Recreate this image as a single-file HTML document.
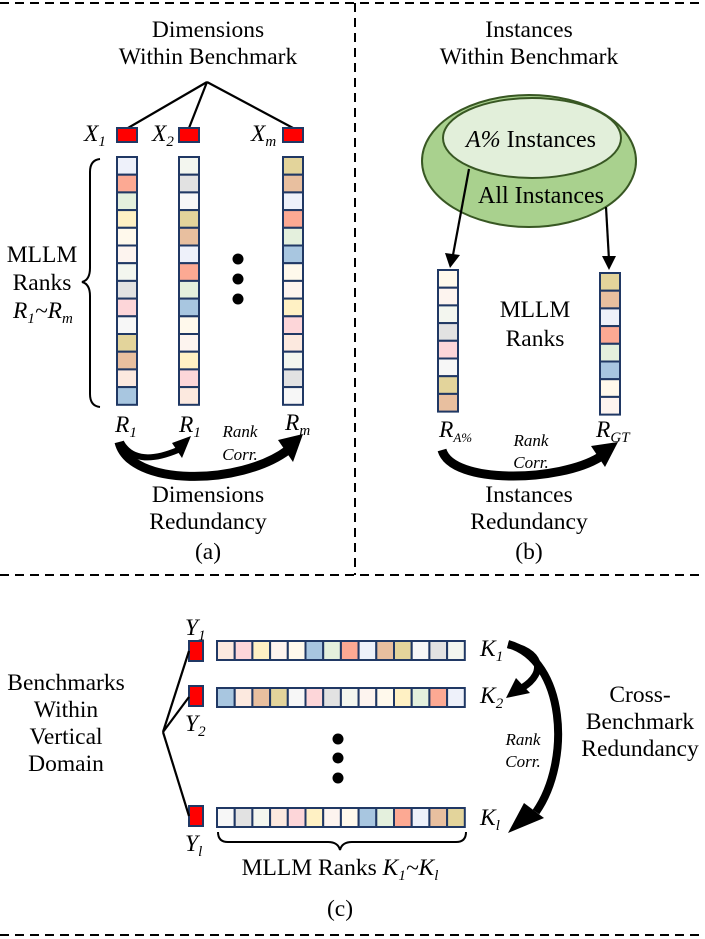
<!DOCTYPE html>
<html><head><meta charset="utf-8"><style>
html,body{margin:0;padding:0;background:#fff;}
svg{display:block;}
text{font-family:"Liberation Serif",serif;fill:#000;}
.c rect{stroke:#203864;stroke-width:2;}
</style></head><body>
<svg width="705" height="939" viewBox="0 0 705 939" xmlns="http://www.w3.org/2000/svg">
<g stroke="#000" stroke-width="2" stroke-dasharray="9,6" fill="none">
<line x1="0" y1="3" x2="705" y2="3"/>
<line x1="355" y1="3" x2="355" y2="575"/>
<line x1="0" y1="575" x2="705" y2="575"/>
<line x1="0" y1="935" x2="705" y2="935"/>
</g>

<!-- Panel a -->
<text x="208" y="37" font-size="23.5" text-anchor="middle">Dimensions</text>
<text x="208" y="64" font-size="23.5" text-anchor="middle">Within Benchmark</text>
<g stroke="#000" stroke-width="2.2"><line x1="207" y1="82" x2="128" y2="128"/><line x1="207" y1="82" x2="189" y2="128"/><line x1="207" y1="82" x2="293" y2="128"/></g>
<g fill="#f00" stroke="#203864" stroke-width="2"><rect x="117" y="128" width="20" height="14"/><rect x="179" y="128" width="20" height="14"/><rect x="283" y="128" width="20" height="14"/></g>
<text x="84" y="141" font-size="23.5" font-style="italic">X<tspan font-size="15" dy="5">1</tspan></text>
<text x="152" y="141" font-size="23.5" font-style="italic">X<tspan font-size="15" dy="5">2</tspan></text>
<text x="251" y="141" font-size="23.5" font-style="italic">X<tspan font-size="15" dy="5">m</tspan></text>

<g class="c">
<rect x="117" y="157" width="20" height="17.7" fill="#EEF1FA"/><rect x="117" y="174.7" width="20" height="17.7" fill="#FCA993"/><rect x="117" y="192.4" width="20" height="17.7" fill="#E4F0DD"/><rect x="117" y="210.1" width="20" height="17.7" fill="#FFF1C4"/><rect x="117" y="227.8" width="20" height="17.7" fill="#FFF9EC"/><rect x="117" y="245.5" width="20" height="17.7" fill="#FDF4EF"/><rect x="117" y="263.2" width="20" height="17.7" fill="#F3F6EF"/><rect x="117" y="280.9" width="20" height="17.7" fill="#E2E2E2"/><rect x="117" y="298.6" width="20" height="17.7" fill="#FDD6D9"/><rect x="117" y="316.3" width="20" height="17.7" fill="#F7F7F7"/><rect x="117" y="334" width="20" height="17.7" fill="#E3D49B"/><rect x="117" y="351.7" width="20" height="17.7" fill="#E8BF9F"/><rect x="117" y="369.4" width="20" height="17.7" fill="#FCE9DF"/><rect x="117" y="387.1" width="20" height="17.7" fill="#A8C6E0"/>
<rect x="179" y="157" width="20" height="17.7" fill="#F3F6EF"/><rect x="179" y="174.7" width="20" height="17.7" fill="#E2E2E2"/><rect x="179" y="192.4" width="20" height="17.7" fill="#F7F7F7"/><rect x="179" y="210.1" width="20" height="17.7" fill="#E3D49B"/><rect x="179" y="227.8" width="20" height="17.7" fill="#E8BF9F"/><rect x="179" y="245.5" width="20" height="17.7" fill="#EEF1FA"/><rect x="179" y="263.2" width="20" height="17.7" fill="#FCA993"/><rect x="179" y="280.9" width="20" height="17.7" fill="#E4F0DD"/><rect x="179" y="298.6" width="20" height="17.7" fill="#A8C6E0"/><rect x="179" y="316.3" width="20" height="17.7" fill="#FFF9EC"/><rect x="179" y="334" width="20" height="17.7" fill="#FDF4EF"/><rect x="179" y="351.7" width="20" height="17.7" fill="#FFF1C4"/><rect x="179" y="369.4" width="20" height="17.7" fill="#FDD6D9"/><rect x="179" y="387.1" width="20" height="17.7" fill="#FCE9DF"/>
<rect x="283" y="157" width="20" height="17.7" fill="#E3D49B"/><rect x="283" y="174.7" width="20" height="17.7" fill="#E8BF9F"/><rect x="283" y="192.4" width="20" height="17.7" fill="#EEF1FA"/><rect x="283" y="210.1" width="20" height="17.7" fill="#FCA993"/><rect x="283" y="227.8" width="20" height="17.7" fill="#E4F0DD"/><rect x="283" y="245.5" width="20" height="17.7" fill="#A8C6E0"/><rect x="283" y="263.2" width="20" height="17.7" fill="#FFF9EC"/><rect x="283" y="280.9" width="20" height="17.7" fill="#FDF4EF"/><rect x="283" y="298.6" width="20" height="17.7" fill="#FFF1C4"/><rect x="283" y="316.3" width="20" height="17.7" fill="#FDD6D9"/><rect x="283" y="334" width="20" height="17.7" fill="#FCE9DF"/><rect x="283" y="351.7" width="20" height="17.7" fill="#F3F6EF"/><rect x="283" y="369.4" width="20" height="17.7" fill="#E2E2E2"/><rect x="283" y="387.1" width="20" height="17.7" fill="#F7F7F7"/>
</g>
<g fill="#000"><circle cx="238" cy="259" r="5.5"/><circle cx="238" cy="279" r="5.5"/><circle cx="238" cy="299" r="5.5"/></g>
<path d="M100,159 Q90,160 90,172 L90,268 Q90,280 82,282 Q90,284 90,296 L90,394 Q90,406 100,407" fill="none" stroke="#000" stroke-width="2"/>
<text x="42" y="262" font-size="23.5" text-anchor="middle">MLLM</text>
<text x="42" y="290" font-size="23.5" text-anchor="middle">Ranks</text>
<text x="13" y="318" font-size="23.5" font-style="italic">R<tspan font-size="15" dy="5">1</tspan><tspan dy="-5">~R</tspan><tspan font-size="15" dy="5">m</tspan></text>

<text x="115" y="432" font-size="23.5" font-style="italic">R<tspan font-size="15" dy="5">1</tspan></text>
<text x="179" y="432" font-size="23.5" font-style="italic">R<tspan font-size="15" dy="5">1</tspan></text>
<text x="285" y="430" font-size="23.5" font-style="italic">R<tspan font-size="15" dy="5">m</tspan></text>
<text x="240" y="437" font-size="17" font-style="italic" text-anchor="middle">Rank</text>
<text x="240" y="460" font-size="17" font-style="italic" text-anchor="middle">Corr.</text>
<g fill="none" stroke="#000">
<path d="M121,442 Q135,468 178,450" stroke-width="6"/>
<path d="M119,442 C130,487 240,486 288,450" stroke-width="9"/>
</g>
<path d="M191,436 L172,443 L182,458 Z" fill="#000"/>
<path d="M303,434 L278,440 L293,462 Z" fill="#000"/>
<text x="208" y="502" font-size="23.5" text-anchor="middle">Dimensions</text>
<text x="208" y="529" font-size="23.5" text-anchor="middle">Redundancy</text>
<text x="208" y="559" font-size="23.5" text-anchor="middle">(a)</text>

<!-- Panel b -->
<text x="529" y="37" font-size="23.5" text-anchor="middle">Instances</text>
<text x="529" y="64" font-size="23.5" text-anchor="middle">Within Benchmark</text>
<ellipse cx="529" cy="161" rx="107" ry="66" fill="#A9D18E" stroke="#385723" stroke-width="2"/>
<ellipse cx="532" cy="138" rx="89" ry="40" fill="#E2EFDA" stroke="#385723" stroke-width="2"/>
<text x="531" y="147" font-size="24" text-anchor="middle"><tspan font-style="italic">A%</tspan> Instances</text>
<text x="541" y="203" font-size="24" text-anchor="middle">All Instances</text>
<g stroke="#000" stroke-width="2.2"><line x1="469" y1="169" x2="453" y2="255"/><line x1="606" y1="207" x2="609" y2="260"/></g>
<path d="M445,253 L460,255 L450,268 Z" fill="#000"/>
<path d="M602,256 L616,256 L609,270 Z" fill="#000"/>
<g class="c">
<rect x="438" y="270" width="20" height="17.7" fill="#FFF9EC"/><rect x="438" y="287.7" width="20" height="17.7" fill="#FDF4EF"/><rect x="438" y="305.4" width="20" height="17.7" fill="#F3F6EF"/><rect x="438" y="323.1" width="20" height="17.7" fill="#E2E2E2"/><rect x="438" y="340.8" width="20" height="17.7" fill="#FDD6D9"/><rect x="438" y="358.5" width="20" height="17.7" fill="#F7F7F7"/><rect x="438" y="376.2" width="20" height="17.7" fill="#E3D49B"/><rect x="438" y="393.9" width="20" height="17.7" fill="#E8BF9F"/>
<rect x="600" y="273" width="20" height="17.7" fill="#E3D49B"/><rect x="600" y="290.7" width="20" height="17.7" fill="#E8BF9F"/><rect x="600" y="308.4" width="20" height="17.7" fill="#EEF1FA"/><rect x="600" y="326.1" width="20" height="17.7" fill="#FCA993"/><rect x="600" y="343.8" width="20" height="17.7" fill="#E4F0DD"/><rect x="600" y="361.5" width="20" height="17.7" fill="#A8C6E0"/><rect x="600" y="379.2" width="20" height="17.7" fill="#FFF9EC"/><rect x="600" y="396.9" width="20" height="17.7" fill="#FDF4EF"/>
</g>
<text x="535" y="317" font-size="23.5" text-anchor="middle">MLLM</text>
<text x="535" y="346" font-size="23.5" text-anchor="middle">Ranks</text>
<text x="439" y="437" font-size="23.5" font-style="italic">R<tspan font-size="13" dy="5">A%</tspan></text>
<text x="596" y="437" font-size="23.5" font-style="italic">R<tspan font-size="15" dy="5">GT</tspan></text>
<text x="531" y="446" font-size="17" font-style="italic" text-anchor="middle">Rank</text>
<text x="531" y="468" font-size="17" font-style="italic" text-anchor="middle">Corr.</text>
<path d="M442,450 C452,485 560,482 600,457" fill="none" stroke="#000" stroke-width="9"/>
<path d="M618,442 L591,446 L605,467 Z" fill="#000"/>
<text x="529" y="502" font-size="23.5" text-anchor="middle">Instances</text>
<text x="529" y="529" font-size="23.5" text-anchor="middle">Redundancy</text>
<text x="529" y="559" font-size="23.5" text-anchor="middle">(b)</text>

<!-- Panel c -->
<g fill="#f00" stroke="#203864" stroke-width="2"><rect x="189" y="641" width="14" height="20"/><rect x="189" y="686" width="14" height="20"/><rect x="189" y="806" width="14" height="20"/></g>
<text x="185" y="635" font-size="23.5" font-style="italic">Y<tspan font-size="15" dy="5">1</tspan></text>
<text x="185" y="731" font-size="23.5" font-style="italic">Y<tspan font-size="15" dy="5">2</tspan></text>
<text x="185" y="851" font-size="23.5" font-style="italic">Y<tspan font-size="15" dy="5">l</tspan></text>
<g stroke="#000" stroke-width="2.2"><line x1="163" y1="732" x2="189" y2="651"/><line x1="163" y1="732" x2="189" y2="697"/><line x1="163" y1="732" x2="189" y2="816"/></g>
<text x="66" y="690" font-size="23.5" text-anchor="middle">Benchmarks</text>
<text x="66" y="717" font-size="23.5" text-anchor="middle">Within</text>
<text x="66" y="744" font-size="23.5" text-anchor="middle">Vertical</text>
<text x="66" y="771" font-size="23.5" text-anchor="middle">Domain</text>
<g class="c">
<rect x="217" y="641" width="17.7" height="19" fill="#FCE9DF"/><rect x="234.7" y="641" width="17.7" height="19" fill="#FDD6D9"/><rect x="252.4" y="641" width="17.7" height="19" fill="#FFF1C4"/><rect x="270.1" y="641" width="17.7" height="19" fill="#FDF4EF"/><rect x="287.8" y="641" width="17.7" height="19" fill="#FFF9EC"/><rect x="305.5" y="641" width="17.7" height="19" fill="#A8C6E0"/><rect x="323.2" y="641" width="17.7" height="19" fill="#E4F0DD"/><rect x="340.9" y="641" width="17.7" height="19" fill="#FCA993"/><rect x="358.6" y="641" width="17.7" height="19" fill="#EEF1FA"/><rect x="376.3" y="641" width="17.7" height="19" fill="#E8BF9F"/><rect x="394" y="641" width="17.7" height="19" fill="#E3D49B"/><rect x="411.7" y="641" width="17.7" height="19" fill="#F7F7F7"/><rect x="429.4" y="641" width="17.7" height="19" fill="#E2E2E2"/><rect x="447.1" y="641" width="17.7" height="19" fill="#F3F6EF"/>
<rect x="217" y="688" width="17.7" height="19" fill="#A8C6E0"/><rect x="234.7" y="688" width="17.7" height="19" fill="#FCE9DF"/><rect x="252.4" y="688" width="17.7" height="19" fill="#E8BF9F"/><rect x="270.1" y="688" width="17.7" height="19" fill="#E3D49B"/><rect x="287.8" y="688" width="17.7" height="19" fill="#F7F7F7"/><rect x="305.5" y="688" width="17.7" height="19" fill="#FDD6D9"/><rect x="323.2" y="688" width="17.7" height="19" fill="#E2E2E2"/><rect x="340.9" y="688" width="17.7" height="19" fill="#F3F6EF"/><rect x="358.6" y="688" width="17.7" height="19" fill="#FDF4EF"/><rect x="376.3" y="688" width="17.7" height="19" fill="#FFF9EC"/><rect x="394" y="688" width="17.7" height="19" fill="#FFF1C4"/><rect x="411.7" y="688" width="17.7" height="19" fill="#E4F0DD"/><rect x="429.4" y="688" width="17.7" height="19" fill="#FCA993"/><rect x="447.1" y="688" width="17.7" height="19" fill="#EEF1FA"/>
<rect x="217" y="808" width="17.7" height="19" fill="#F7F7F7"/><rect x="234.7" y="808" width="17.7" height="19" fill="#E2E2E2"/><rect x="252.4" y="808" width="17.7" height="19" fill="#F3F6EF"/><rect x="270.1" y="808" width="17.7" height="19" fill="#FCE9DF"/><rect x="287.8" y="808" width="17.7" height="19" fill="#FDD6D9"/><rect x="305.5" y="808" width="17.7" height="19" fill="#FFF1C4"/><rect x="323.2" y="808" width="17.7" height="19" fill="#FDF4EF"/><rect x="340.9" y="808" width="17.7" height="19" fill="#FFF9EC"/><rect x="358.6" y="808" width="17.7" height="19" fill="#A8C6E0"/><rect x="376.3" y="808" width="17.7" height="19" fill="#E4F0DD"/><rect x="394" y="808" width="17.7" height="19" fill="#FCA993"/><rect x="411.7" y="808" width="17.7" height="19" fill="#EEF1FA"/><rect x="429.4" y="808" width="17.7" height="19" fill="#E8BF9F"/><rect x="447.1" y="808" width="17.7" height="19" fill="#E3D49B"/>
</g>
<g fill="#000"><circle cx="338" cy="739" r="5.5"/><circle cx="338" cy="758" r="5.5"/><circle cx="338" cy="778" r="5.5"/></g>
<text x="480" y="656" font-size="23.5" font-style="italic">K<tspan font-size="15" dy="5">1</tspan></text>
<text x="480" y="703" font-size="23.5" font-style="italic">K<tspan font-size="15" dy="5">2</tspan></text>
<text x="480" y="825" font-size="23.5" font-style="italic">K<tspan font-size="15" dy="5">l</tspan></text>
<text x="523" y="745" font-size="17" font-style="italic" text-anchor="middle">Rank</text>
<text x="523" y="767" font-size="17" font-style="italic" text-anchor="middle">Corr.</text>
<g fill="none" stroke="#000">
<path d="M508,645 C540,650 548,672 522,688" stroke-width="7"/>
<path d="M508,644 C565,660 572,760 536,812" stroke-width="8"/>
</g>
<path d="M506,698 L516,678 L530,693 Z" fill="#000"/>
<path d="M508,833 L524,803 L544,818 Z" fill="#000"/>
<text x="640" y="702" font-size="23.5" text-anchor="middle">Cross-</text>
<text x="640" y="729" font-size="23.5" text-anchor="middle">Benchmark</text>
<text x="640" y="756" font-size="23.5" text-anchor="middle">Redundancy</text>
<path d="M218,832 Q218,842 228,842 L328,842 Q338,842 340,850 Q342,842 352,842 L456,842 Q466,842 466,832" fill="none" stroke="#000" stroke-width="2"/>
<text x="340" y="875" font-size="23.5" text-anchor="middle">MLLM Ranks <tspan font-style="italic">K</tspan><tspan font-style="italic" font-size="15" dy="5">1</tspan><tspan font-style="italic" dy="-5">~K</tspan><tspan font-style="italic" font-size="15" dy="5">l</tspan></text>
<text x="340" y="916" font-size="23.5" text-anchor="middle">(c)</text>
</svg>
</body></html>
